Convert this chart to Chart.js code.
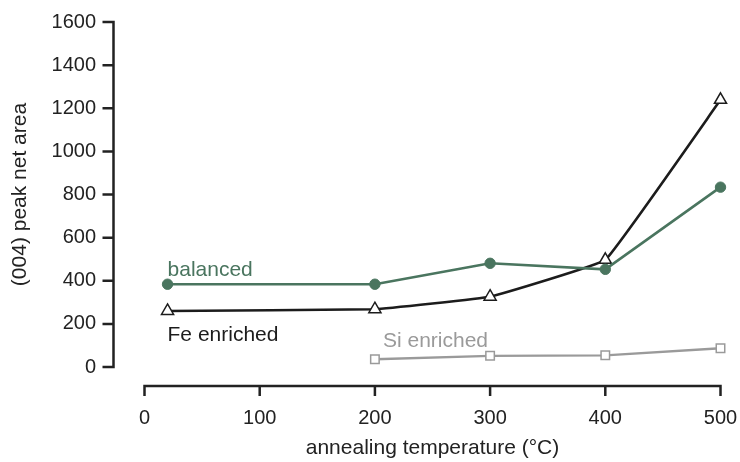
<!DOCTYPE html>
<html>
<head>
<meta charset="utf-8">
<title>(004) peak net area vs annealing temperature</title>
<script src="https://cdn.jsdelivr.net/npm/chart.js@4/dist/chart.umd.min.js"></script>
<style>
  html, body { margin: 0; padding: 0; background: #fff; }
  #wrap { width: 740px; height: 462px; }
</style>
</head>
<body>
<div id="wrap"><canvas id="chart" width="740" height="462"></canvas></div>
<script>
// annealing temperatures (°C) and peak areas per sample
const tempsFe = [20, 200, 300, 400, 500];
const feEnriched = [260, 268, 326, 497, 1239];

const tempsBalanced = [20, 200, 300, 400, 500];
const balanced = [384, 384, 481, 453, 834];

const tempsSi = [200, 300, 400, 500];
const siEnriched = [36, 52, 54, 87];

const xTicks = [0, 100, 200, 300, 400, 500];
const yTicks = [0, 200, 400, 600, 800, 1000, 1200, 1400, 1600];

// series name labels, placed in data units
const seriesNames = ['balanced', 'Fe enriched', 'Si enriched'];
const nameX = [20, 20, 207];
const nameY = [422, 121, 91];

const GREEN = '#4a755f';
const BLACK = '#1c1c1c';
const GREY = '#9a9a9a';
const nameColors = [GREEN, BLACK, GREY];
const FONT = '"Liberation Sans", Arial, Helvetica, sans-serif';

const toPoints = (xs, ys) => xs.map((x, i) => ({ x, y: ys[i] }));

// detached axes: y axis line sits left of the plot, x axis line sits below it
const offsetAxes = {
  id: 'offsetAxes',
  afterDraw(chart) {
    const { ctx, chartArea, scales } = chart;
    const yx = chartArea.left - 31;
    const xy = chartArea.bottom + 19;
    ctx.save();
    ctx.strokeStyle = '#222';
    ctx.lineWidth = 2.5;
    ctx.lineCap = 'butt';
    ctx.beginPath();
    ctx.moveTo(yx, scales.y.getPixelForValue(yTicks[yTicks.length - 1]) - 1.25);
    ctx.lineTo(yx, scales.y.getPixelForValue(0) + 1.25);
    yTicks.forEach(v => {
      const p = scales.y.getPixelForValue(v);
      ctx.moveTo(yx - 11, p);
      ctx.lineTo(yx, p);
    });
    ctx.moveTo(scales.x.getPixelForValue(0) - 1.25, xy);
    ctx.lineTo(scales.x.getPixelForValue(500) + 1.25, xy);
    xTicks.forEach(v => {
      const p = scales.x.getPixelForValue(v);
      ctx.moveTo(p, xy);
      ctx.lineTo(p, xy + 10);
    });
    ctx.stroke();

    // series names
    ctx.font = '21px ' + FONT;
    ctx.textAlign = 'left';
    ctx.textBaseline = 'alphabetic';
    seriesNames.forEach((name, i) => {
      ctx.fillStyle = nameColors[i];
      ctx.fillText(name, scales.x.getPixelForValue(nameX[i]), scales.y.getPixelForValue(nameY[i]));
    });
    ctx.restore();
  }
};

// invisible tick marks just push the labels away from the plot
const hiddenTicks = len => ({
  display: true,
  drawOnChartArea: false,
  drawTicks: true,
  tickLength: len,
  tickColor: 'rgba(0,0,0,0)'
});

new Chart(document.getElementById('chart'), {
  type: 'line',
  data: {
    datasets: [
      {
        label: 'Si enriched',
        data: toPoints(tempsSi, siEnriched),
        clip: false,
        borderColor: GREY,
        borderWidth: 2.3,
        pointStyle: 'rect',
        pointRadius: 6,
        pointBackgroundColor: '#fff',
        pointBorderColor: GREY,
        pointBorderWidth: 1.5
      },
      {
        label: 'balanced',
        data: toPoints(tempsBalanced, balanced),
        clip: false,
        borderColor: GREEN,
        borderWidth: 2.6,
        pointStyle: 'circle',
        pointRadius: 5.2,
        pointBackgroundColor: GREEN,
        pointBorderColor: GREEN,
        pointBorderWidth: 1
      },
      {
        label: 'Fe enriched',
        data: toPoints(tempsFe, feEnriched),
        clip: false,
        borderColor: BLACK,
        borderWidth: 2.6,
        tension: 0.07,
        pointStyle: 'triangle',
        pointRadius: 7,
        pointBackgroundColor: '#fff',
        pointBorderColor: BLACK,
        pointBorderWidth: 1.5
      }
    ]
  },
  options: {
    responsive: false,
    animation: false,
    devicePixelRatio: 1,
    layout: { padding: { left: 0, top: 22, right: 19.5, bottom: 0 } },
    plugins: { legend: { display: false }, tooltip: { enabled: false } },
    scales: {
      x: {
        type: 'linear',
        min: 0,
        max: 500,
        afterFit: s => { s.height = 95; },
        afterBuildTicks: s => { s.ticks = xTicks.map(v => ({ value: v })); },
        grid: hiddenTicks(37),
        border: { display: false },
        ticks: { color: '#222', font: { family: FONT, size: 20 }, padding: 2.5, maxRotation: 0, callback: v => String(v) },
        title: {
          display: true,
          text: 'annealing temperature (°C)',
          color: '#222',
          font: { family: FONT, size: 21 },
          padding: { top: 0, bottom: 1 }
        }
      },
      y: {
        type: 'linear',
        min: 0,
        max: 1600,
        afterFit: s => { s.width = 144.5; },
        afterBuildTicks: s => { s.ticks = yTicks.map(v => ({ value: v })); },
        grid: hiddenTicks(45),
        border: { display: false },
        ticks: { color: '#222', font: { family: FONT, size: 20 }, padding: 3.5, callback: v => String(v) },
        title: {
          display: true,
          text: '(004) peak net area',
          color: '#222',
          font: { family: FONT, size: 21 },
          padding: { top: 8, bottom: 0 }
        }
      }
    }
  },
  plugins: [offsetAxes]
});
</script>
</body>
</html>
